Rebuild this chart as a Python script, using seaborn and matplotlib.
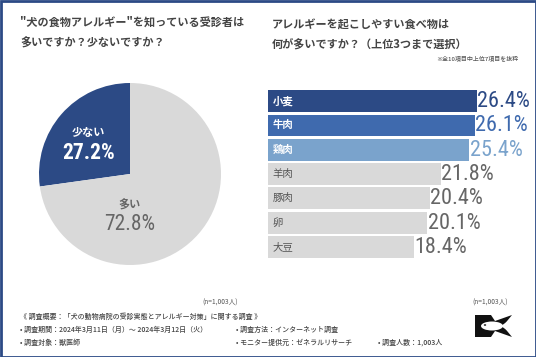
import matplotlib
matplotlib.use('Agg')
import matplotlib.pyplot as plt
import matplotlib.patches as mpatches
import seaborn as sns
import pandas as pd

# 左：円グラフ
pie_labels = ['少ない', '多い']
pie_values = [27.2, 72.8]

# 右：横棒グラフ
foods = ['小麦', '牛肉', '鶏肉', '羊肉', '豚肉', '卵', '大豆']
food_values = [26.4, 26.1, 25.4, 21.8, 20.4, 20.1, 18.4]

sns.set_theme(style='white')
plt.rcParams['font.family'] = ['Noto Sans CJK JP', 'DejaVu Sans']
num_font = ['Roboto Condensed', 'Barlow Semi Condensed', 'DejaVu Sans']

NAVY = '#2c4a85'
GRAY = '#d9d9d9'
TXT = '#444444'

W, H = 536, 357
fig = plt.figure(figsize=(W / 100, H / 100), dpi=100)
fig.patch.set_facecolor('white')

def fx(px):
    return px / W

def fy(py):
    return 1 - py / H

# ---- pie
cx, cy, r = 130, 174, 91
ax1 = fig.add_axes([fx(cx - r), fy(cy + r), 2 * r / W, 2 * r / H])
wedges, _ = ax1.pie(pie_values, colors=[NAVY, GRAY], startangle=90, counterclock=True,
                    wedgeprops=dict(linewidth=0))
ax1.set_xlim(-1, 1)
ax1.set_ylim(-1, 1)
ax1.set_aspect('auto')
ax1.axis('off')

# (x, ラベルy, 数値y)
pie_pos = [(-0.46, 0.46, 0.23), (0.0, -0.34, -0.56)]
pie_txt = ['white', '#666666']
pie_wt = ['bold', 'normal']
for (x, yl, yv), lab, val, c, wt in zip(pie_pos, pie_labels, pie_values, pie_txt, pie_wt):
    ax1.text(x, yl, lab, ha='center', va='center', fontsize=8, color=c, fontweight='bold')
    ax1.text(x, yv, f'{val}%', ha='center', va='center', fontsize=15.5,
             color=c, fontweight=wt, family=num_font)

# ---- bars
bar_colors = [NAVY, '#3f6aae', '#7aa3cc'] + [GRAY] * 4
lab_colors = ['white'] * 3 + ['#555555'] * 4
val_colors = [NAVY, '#3f6aae', '#7aa3cc'] + ['#666666'] * 4
df = pd.DataFrame({'food': foods, 'value': food_values})

x0 = 268
scale = 7.92
ax2 = fig.add_axes([fx(x0), fy(259), 30 * scale / W, 170 / H])
sns.barplot(data=df, x='value', y='food', hue='food', palette=bar_colors,
            legend=False, width=0.9, ax=ax2, saturation=1, linewidth=0)
ax2.set_xlim(0, 30)
ax2.set_ylim(6.5, -0.5)
ax2.axis('off')
for i, (f, v) in enumerate(zip(foods, food_values)):
    ax2.text(0.6, i, f, ha='left', va='center', fontsize=7.5, color=lab_colors[i],
             fontweight='bold' if i < 3 else 'normal')
    ax2.text(v + 0.05, i + 0.02, f'{v}%', ha='left', va='center', fontsize=16,
             color=val_colors[i], fontweight='normal', family=num_font)

# ---- titles
fig.text(fx(20), fy(22), '"犬の食物アレルギー"を知っている受診者は', fontsize=8, color=TXT,
         fontweight='bold', va='center')
fig.text(fx(20), fy(43), '多いですか？少ないですか？', fontsize=8, color=TXT,
         fontweight='bold', va='center')
fig.text(fx(272), fy(25), 'アレルギーを起こしやすい食べ物は', fontsize=8, color=TXT,
         fontweight='bold', va='center')
fig.text(fx(272), fy(45), '何が多いですか？（上位3つまで選択）', fontsize=8, color=TXT,
         fontweight='bold', va='center')
fig.text(fx(518), fy(58), '※全10項目中上位7項目を抜粋', fontsize=4.3, color='#555555',
         ha='right', va='center', fontweight='medium')

# ---- n labels
fig.text(fx(220), fy(303), '(n=1,003人)', fontsize=4.8, color='#555555', ha='center', va='center')
fig.text(fx(490), fy(303), '(n=1,003人)', fontsize=4.8, color='#555555', ha='center', va='center')

# ---- footer
fs = 5
fig.text(fx(20), fy(317), '《 調査概要：「犬の動物病院の受診実態とアレルギー対策」に関する調査 》',
         fontsize=fs, color=TXT, va='center', fontweight='medium')
fig.text(fx(20), fy(330), '• 調査期間：2024年3月11日（月）～ 2024年3月12日（火）',
         fontsize=fs, color=TXT, va='center', fontweight='medium')
fig.text(fx(20), fy(343), '• 調査対象：獣医師', fontsize=fs, color=TXT, va='center',
         fontweight='medium')
fig.text(fx(236), fy(330), '• 調査方法：インターネット調査', fontsize=fs, color=TXT, va='center',
         fontweight='medium')
fig.text(fx(236), fy(343), '• モニター提供元：ゼネラルリサーチ', fontsize=fs, color=TXT, va='center',
         fontweight='medium')
fig.text(fx(378), fy(343), '• 調査人数：1,003人', fontsize=fs, color=TXT, va='center',
         fontweight='medium')

# ---- logo (K + fish)
def P(pts):
    return [(fx(a), fy(b)) for a, b in pts]

logo = P([(475, 315), (491, 315), (495, 321), (512, 315), (503, 326),
          (512, 337), (495, 331), (491, 337), (475, 337)])
fig.patches.append(mpatches.Polygon(logo, closed=True, transform=fig.transFigure,
                                    facecolor='#111111', edgecolor='none'))
fish = mpatches.Ellipse((fx(492), fy(326)), 22 / W, 9 / H, transform=fig.transFigure,
                        facecolor='white', edgecolor='none')
fig.patches.append(fish)
tail = P([(501, 326), (508, 321), (508, 331)])
fig.patches.append(mpatches.Polygon(tail, closed=True, transform=fig.transFigure,
                                    facecolor='white', edgecolor='none'))
fig.patches.append(mpatches.Circle((fx(485), fy(325)), 1.2 / W, transform=fig.transFigure,
                                   facecolor='#111111', edgecolor='none'))

# ---- frame
fig.patches.append(mpatches.Rectangle((0.5 / W, 0.5 / H), 1 - 1 / W, 1 - 1 / H,
                                      transform=fig.transFigure, fill=False,
                                      edgecolor=NAVY, linewidth=2))

fig.savefig('out.png', dpi=100, facecolor='white')
